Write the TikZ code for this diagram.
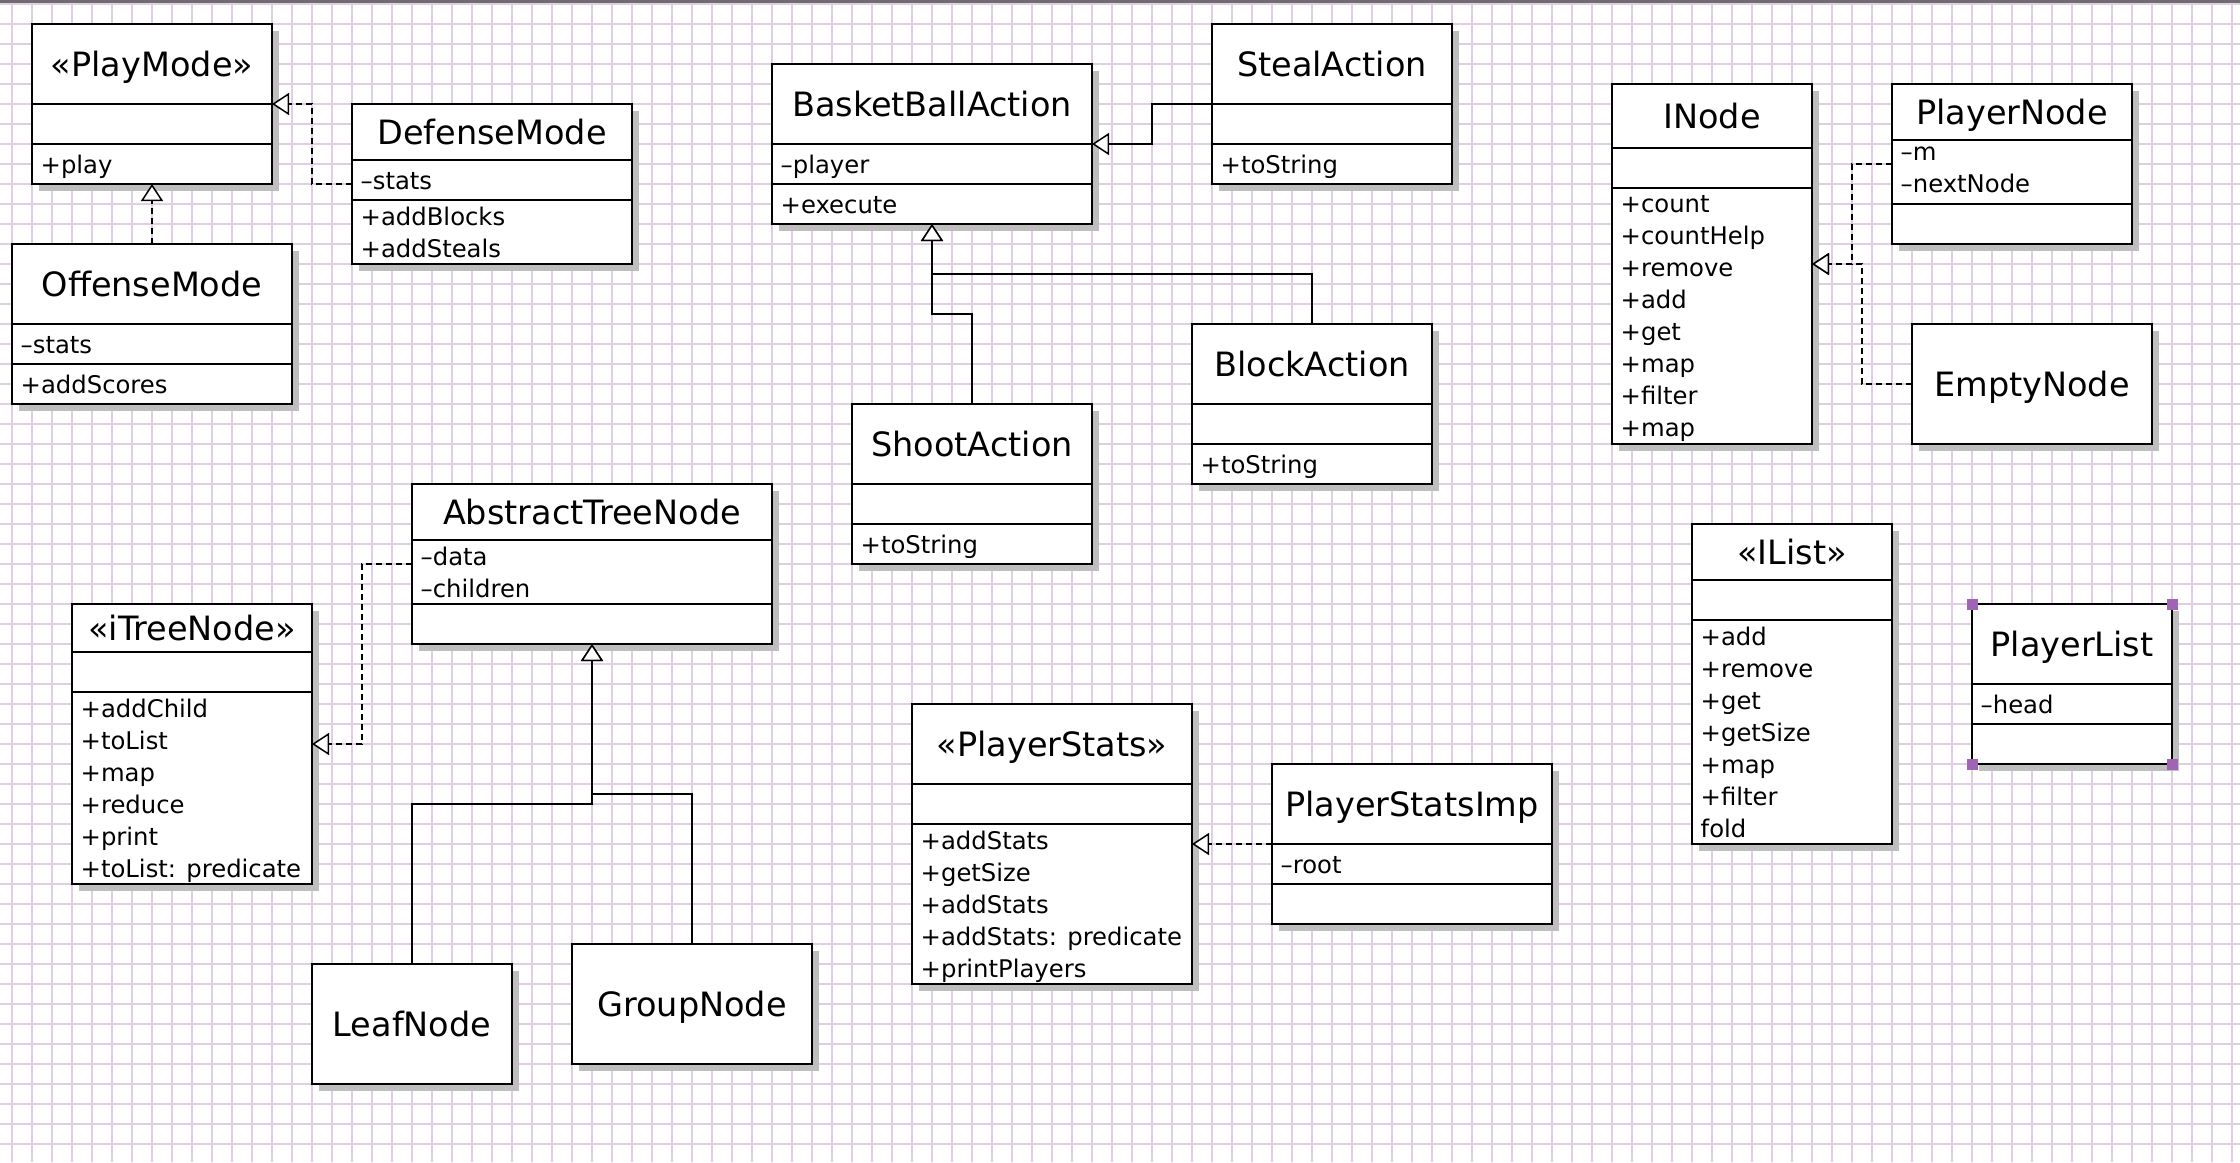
\documentclass[tikz,border=0pt]{standalone}
\usepackage{fontspec}
\setmainfont{DejaVu Sans}
\usetikzlibrary{arrows.meta, calc, shadows}

\definecolor{umlGrid}{HTML}{E1CDE6}
\definecolor{umlShadow}{HTML}{BEBEBE}
\definecolor{umlHandle}{HTML}{A064B4}
\definecolor{umlBar}{HTML}{6D6D6D}

\newcommand{\umltitlefont}{\fontsize{33.5}{40}\selectfont}
\newcommand{\umlmemberfont}{\fontsize{24.3}{32}\selectfont}

\tikzset{
  umlbox/.style={
    draw, fill=white, line width=2pt, outer sep=0pt, inner sep=0pt,
    drop shadow={shadow xshift=7pt, shadow yshift=-7pt, fill=umlShadow, opacity=1}
  },
  umlline/.style={line width=2pt},
  umltitle/.style={font=\umltitlefont, text height=24.4pt, text depth=0pt, inner sep=0pt},
  umlmember/.style={
    font=\umlmemberfont, align=left, anchor=north west,
    inner xsep=8.5pt, inner ysep=7pt, execute at begin node=\strut
  },
  umlsingle/.style={umlbox, anchor=north west, font=\umltitlefont, text height=24.4pt, text depth=0pt},
  inherit/.style={line width=1.5pt, -{Triangle[length=17pt, width=22pt, fill=white, line width=1.5pt]}},
  realize/.style={inherit, dash pattern=on 6pt off 4pt},
  gridline/.style={line width=2pt, umlGrid},
  handle/.style={fill=umlHandle},
  topbar/.style={fill=umlBar}
}

% name, top left, width, height, title height, title+attribute height, title, attributes, operations
\newcommand{\umlclass}[9]{%
  \node[umlbox, anchor=north west, minimum width=#3, minimum height=#4] (#1) at #2 {};
  \draw[umlline] (#1.north west) ++(0,#5) coordinate (#1-d1) -- ++(#3,0);
  \draw[umlline] (#1.north west) ++(0,#6) coordinate (#1-d2) -- ++(#3,0);
  \node[umltitle] (#1-t) at ($(#1.north)+(0,#5/2)$) {#7};
  \node[umlmember] (#1-a) at (#1-d1) {#8};
  \node[umlmember] (#1-m) at (#1-d2) {#9};
}

\begin{document}
\begin{tikzpicture}[x=1pt, y=-1pt]
  \useasboundingbox (0,0) rectangle (2240,1162);
  \fill[white] (0,0) rectangle (2240,1162);
  \foreach \gx in {12,32,...,2232} \draw[gridline] (\gx,0) -- (\gx,1162);
  \foreach \gy in {4,24,...,1144} \draw[gridline] (0,\gy) -- (2240,\gy);
  \fill[topbar] (0,0) rectangle (2240,2.5);

  \umlclass{playmode}{(32,24)}{240}{160}{80}{120}{«PlayMode»}{}{+play}
  \umlclass{defense}{(352,104)}{280}{160}{56}{96}{DefenseMode}{--stats}{+addBlocks\\+addSteals}
  \umlclass{offense}{(12,244)}{280}{160}{80}{120}{OffenseMode}{--stats}{+addScores}

  \umlclass{bball}{(772,64)}{320}{160}{80}{120}{BasketBallAction}{--player}{+execute}
  \umlclass{steal}{(1212,24)}{240}{160}{80}{120}{StealAction}{}{+toString}
  \umlclass{block}{(1192,324)}{240}{160}{80}{120}{BlockAction}{}{+toString}
  \umlclass{shoot}{(852,404)}{240}{160}{80}{120}{ShootAction}{}{+toString}

  \umlclass{inode}{(1612,84)}{200}{360}{64}{104}{INode}{}{+count\\+countHelp\\+remove\\+add\\+get\\+map\\+filter\\+map}
  \umlclass{pnode}{(1892,84)}{240}{160}{56}{120}{PlayerNode}{--m\\--nextNode}{}
  \node[umlsingle, minimum width=240, minimum height=120] (empty) at (1912,324) {EmptyNode};

  \umlclass{ilist}{(1692,524)}{200}{320}{56}{96}{«IList»}{}{+add\\+remove\\+get\\+getSize\\+map\\+filter\\fold}
  \umlclass{plist}{(1972,604)}{200}{160}{80}{120}{PlayerList}{--head}{}
  \foreach \corner in {north west,north east,south west,south east}
    \fill[handle] ($(plist.\corner)+(-5.5,-5.5)$) rectangle ++(11,11);

  \umlclass{atn}{(412,484)}{360}{160}{56}{120}{AbstractTreeNode}{--data\\--children}{}
  \umlclass{itree}{(72,604)}{240}{280}{48}{88}{«iTreeNode»}{}{+addChild\\+toList\\+map\\+reduce\\+print\\+toList: predicate}
  \node[umlsingle, minimum width=200, minimum height=120] (leaf) at (312,964) {LeafNode};
  \node[umlsingle, minimum width=240, minimum height=120] (group) at (572,944) {GroupNode};

  \umlclass{pstats}{(912,704)}{280}{280}{80}{120}{«PlayerStats»}{}{+addStats\\+getSize\\+addStats\\+addStats: predicate\\+printPlayers}
  \umlclass{psimp}{(1272,764)}{280}{160}{80}{120}{PlayerStatsImp}{--root}{}

  \draw[realize] (defense.west |- playmode.south) -- ++(-40,0) |- (playmode.east |- playmode-d1);
  \draw[realize] (offense.north) -- (playmode.south);
  \draw[inherit] (steal-d1) -- ++(-60,0) |- (bball.east |- bball-d1);
  \draw[inherit] (shoot.north) -- ++(0,-90) -| (bball.south);
  \draw[inherit] (block.north) -- ++(0,-50) -| (bball.south);
  \draw[realize] ($(pnode-d1)+(0,24)$) -- ++(-40,0) |- (inode.east);
  \draw[realize] (empty.west) -- ++(-50,0) |- (inode.east);
  \draw[realize] ($(atn-d1)+(0,24)$) -- ++(-50,0) |- (itree.east);
  \draw[inherit] (leaf.north) -- ++(0,-160) -| (atn.south);
  \draw[inherit] (group.north) -- ++(0,-150) -| (atn.south);
  \draw[realize] (psimp-d1) -- (pstats.east |- psimp-d1);
\end{tikzpicture}
\end{document}
